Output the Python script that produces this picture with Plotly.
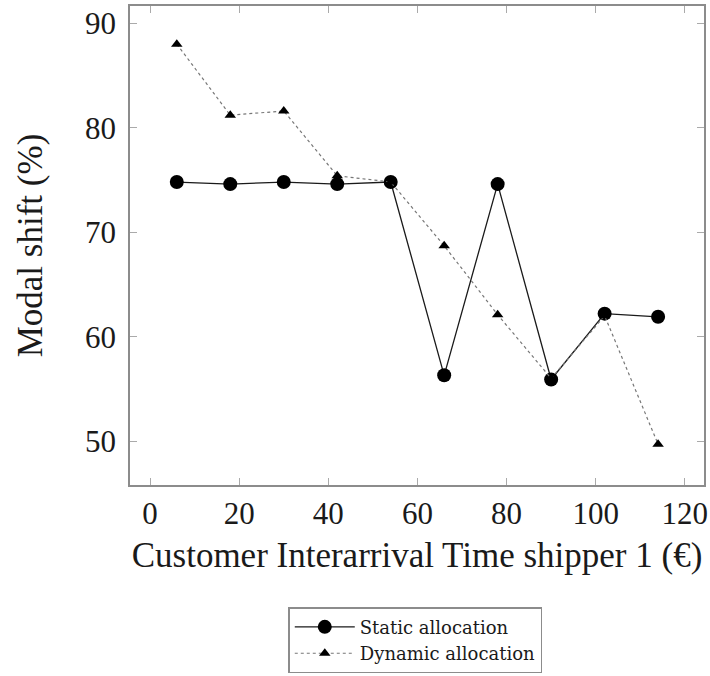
import plotly.graph_objects as go

# Customer interarrival time settings (x) and modal shift results (%)
interarrival = [6, 18, 30, 42, 54, 66, 78, 90, 102, 114]
static_shift = [74.8, 74.6, 74.8, 74.6, 74.8, 56.3, 74.6, 55.9, 62.2, 61.9]
dynamic_shift = [88.0, 81.2, 81.6, 75.4, 74.8, 68.7, 62.1, 56.0, 62.0, 49.7]

x_ticks = [0, 20, 40, 60, 80, 100, 120]
y_ticks = [50, 60, 70, 80, 90]

SERIF = "Liberation Serif, Times New Roman, serif"
WIDE_SERIF = "DejaVu Serif, Liberation Serif, serif"
INK = "#1a1a1a"
FRAME = "#8c8c8c"

fig = go.Figure()

fig.add_trace(go.Scatter(
    x=interarrival, y=static_shift,
    mode="lines+markers",
    name="Static allocation",
    line=dict(color=INK, width=1.3),
    marker=dict(symbol="circle", size=14, color="black"),
))

fig.add_trace(go.Scatter(
    x=interarrival, y=dynamic_shift,
    mode="lines+markers",
    name="Dynamic allocation",
    line=dict(color="#777777", width=1.2, dash="dot"),
    marker=dict(symbol="triangle-up", size=10, color="black"),
))

axis_common = dict(
    showline=True, linecolor=FRAME, linewidth=1.6, mirror="allticks",
    ticks="inside", ticklen=7, tickwidth=1, tickcolor="#aaaaaa",
    showgrid=False, zeroline=False,
    tickfont=dict(family=SERIF, size=31, color=INK),
)

fig.update_xaxes(
    range=[-4.5, 124.3], tickvals=x_ticks, ticklabelstandoff=0,
    title=dict(text="Customer Interarrival Time shipper 1 (€)",
               font=dict(family=SERIF, size=35, color=INK), standoff=12),
    **axis_common,
)
fig.update_yaxes(
    range=[45.8, 91.65], tickvals=y_ticks, ticklabelstandoff=6,
    title=dict(text="Modal shift (%)",
               font=dict(family=SERIF, size=35, color=INK), standoff=32),
    **axis_common,
)

fig.update_layout(
    width=710, height=676,
    margin=dict(l=130, r=6, t=6, b=191, autoexpand=False),
    paper_bgcolor="white", plot_bgcolor="white",
    showlegend=True,
    legend=dict(
        x=0.497, y=-0.255, xanchor="center", yanchor="top",
        bordercolor=FRAME, borderwidth=1.5, bgcolor="white",
        font=dict(family=WIDE_SERIF, size=18, color=INK),
        tracegroupgap=0, itemwidth=60,
    ),
)

fig.write_html("out.html")
